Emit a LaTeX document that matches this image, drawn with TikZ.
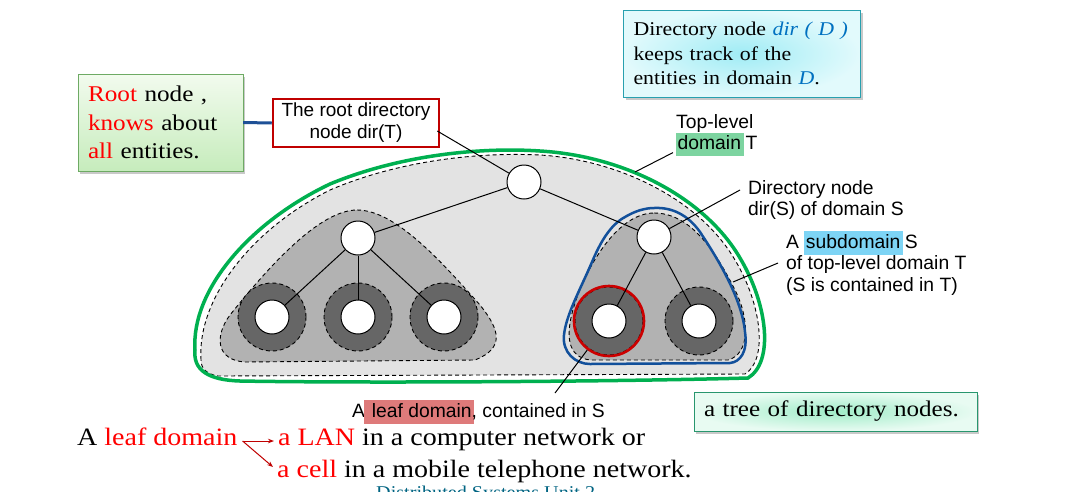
\documentclass[tikz,border=0pt]{standalone}
\usepackage{fontspec}
\setmainfont{Liberation Serif}[FakeStretch=1.12]
\newfontfamily\diagfont{Liberation Sans}
\usetikzlibrary{shadows,calc,arrows.meta}
\definecolor{outergray}{RGB}{227,227,227}
\definecolor{midgray}{RGB}{178,178,178}
\definecolor{ringgray}{RGB}{102,102,102}
\definecolor{tgreen}{RGB}{0,176,80}
\definecolor{sblue}{RGB}{18,80,155}
\definecolor{ringred}{RGB}{204,0,0}
\definecolor{boxred}{RGB}{192,0,0}
\definecolor{hlg}{RGB}{125,212,160}
\definecolor{hlb}{RGB}{125,212,245}
\definecolor{hlr}{RGB}{222,122,122}
\definecolor{conblue}{RGB}{30,80,150}
\definecolor{ablue}{RGB}{0,112,192}
\definecolor{darkred}{RGB}{192,0,0}
\definecolor{footteal}{RGB}{0,100,130}
\definecolor{rootborder}{RGB}{110,170,100}
\definecolor{calloutcyan}{RGB}{40,160,175}
\definecolor{treeborder}{RGB}{40,150,110}
\newcommand\hlbox[2]{{\setlength{\fboxsep}{0pt}\colorbox{#1}{\rule[-6.5pt]{0pt}{23.5pt}\kern1.5pt#2\kern2.5pt}}}
\begin{document}
\begin{tikzpicture}[x=1pt,y=-1pt,
  dlab/.style={font=\diagfont\fontsize{19.3}{21.7}\selectfont, align=left, inner sep=0pt, anchor=north west},
  wcirc/.style={circle, draw, fill=white, minimum size=34pt, inner sep=0pt, line width=1pt},
  ring/.style={circle, draw, dash pattern=on 4pt off 3pt, fill=ringgray, minimum size=68pt, inner sep=0pt, line width=0.9pt},
  conn/.style={line width=1pt},
  shadowed/.style={drop shadow={shadow xshift=2pt, shadow yshift=-3pt, opacity=0.35, fill=black!60}},
  serifbig/.style={font=\fontsize{25}{32}\selectfont, inner sep=0pt, anchor=base west}
]
\useasboundingbox (0,0) rectangle (1067,491);
\fill[white] (0,0) rectangle (1067,491);

% outer domain T
\draw[fill=outergray, dash pattern=on 4pt off 3pt, line width=0.9pt]
  (201,360) .. controls (197,300) and (250,230) .. (330,190)
  .. controls (400,160) and (480,152) .. (540,155)
  .. controls (620,160) and (700,200) .. (735,260)
  .. controls (762,305) and (768,360) .. (745,374)
  -- (218,376) .. controls (207,374) and (201,369) .. (201,360) -- cycle;
\draw[tgreen, line width=3.5pt]
  (195,350) .. controls (191,290) and (250,222) .. (330,184)
  .. controls (400,155) and (480,147) .. (540,151)
  .. controls (625,156) and (705,198) .. (740,258)
  .. controls (768,305) and (774,362) .. (748,378)
  .. controls (600,382) and (350,383) .. (240,381)
  .. controls (208,380) and (193,370) .. (195,350) -- cycle;

% left subdomain
\draw[fill=midgray, dash pattern=on 4pt off 3pt, line width=0.9pt]
  (357,210) .. controls (395,210) and (440,260) .. (480,305)
  .. controls (500,330) and (505,348) .. (475,360)
  -- (245,362) .. controls (215,360) and (215,335) .. (230,315)
  .. controls (270,265) and (320,210) .. (357,210) -- cycle;

% subdomain S
\draw[fill=midgray, dash pattern=on 4pt off 3pt, line width=0.9pt]
  (654,213) .. controls (690,213) and (715,250) .. (735,290)
  .. controls (750,320) and (750,354) .. (728,360)
  -- (590,360) .. controls (567,357) and (564,335) .. (576,300)
  .. controls (590,260) and (620,213) .. (654,213) -- cycle;
\draw[sblue, line width=2.5pt]
  (654,208) .. controls (672,207) and (688,215) .. (700,232)
  .. controls (720,262) and (742,300) .. (745,332)
  .. controls (748,352) and (740,362) .. (730,363)
  -- (590,364) .. controls (575,364) and (562,352) .. (564,335)
  .. controls (566,315) and (580,290) .. (592,262)
  .. controls (600,243) and (610,225) .. (625,217)
  .. controls (635,211) and (645,208) .. (654,208) -- cycle;

% leaf domains
\node[ring] (l1) at (272,317) {};
\node[ring] (l2) at (358,317) {};
\node[ring] (l3) at (444,317) {};
\node[ring] (r1) at (609,321) {};
\node[ring] (r2) at (699,321) {};
\node[wcirc] (c1) at (272,317) {};
\node[wcirc] (c2) at (358,317) {};
\node[wcirc] (c3) at (444,317) {};
\node[wcirc] (s1) at (609,321) {};
\node[wcirc] (s2) at (699,321) {};
\node[circle, draw=ringred, line width=2.6pt, minimum size=70pt, inner sep=0pt] (rr) at (609,321) {};

% directory nodes
\node[wcirc] (root) at (524,182) {};
\node[wcirc] (dl) at (358,238) {};
\node[wcirc] (ds) at (654,237) {};

\draw[conn] (root) -- (dl);
\draw[conn] (root) -- (ds);
\draw[conn] (dl) -- (c1);
\draw[conn] (dl) -- (c2);
\draw[conn] (dl) -- (c3);
\draw[conn] (ds) -- (s1);
\draw[conn] (ds) -- (s2);

% labels
\node[draw=boxred, line width=2.5pt, minimum width=166pt, minimum height=48pt, inner sep=0pt, align=center,
  font=\diagfont\fontsize{19}{22}\selectfont] (rootbox) at (356,123) {The root directory\\node dir(T)};
\draw[conn] ($(rootbox.east)+(-3,8)$) -- (root);

\node[dlab] (toplab) at (676,114) {Top-level\\\hlbox{hlg}{domain}\kern2pt T};
\coordinate (tlT) at (635,172);
\draw[conn] ($(toplab.south west)+(-3,-4)$) -- (tlT);

\node[dlab] (dslab) at (748,180) {Directory node\\dir(S) of domain S};
\draw[conn] ($(dslab.north west)+(-8,10)$) -- (ds);

\node[dlab] (sublab) at (786,231) {A \hlbox{hlb}{subdomain}\kern2pt S\\of top-level domain T\\(S is contained in T)};
\coordinate (subT) at (733,282);
\draw[conn] ($(sublab.north west)+(-8,32)$) -- (subT);

\node[font=\diagfont\fontsize{19.3}{21.7}\selectfont, inner sep=0pt, anchor=base west] (leaflab) at (352,417)
  {A\kern-1pt\hlbox{hlr}{\kern1pt\ leaf domain}\kern-2.5pt, contained in S};
\coordinate (leafend) at (555,393);
\draw[conn] (rr) -- (leafend);

% callouts
\node[draw=rootborder, shadowed, top color={rgb,255:red,242;green,251;blue,238}, bottom color={rgb,255:red,198;green,236;blue,188},
  minimum width=165pt, minimum height=97pt, text width=145pt, inner xsep=10pt, inner ysep=0pt, align=left,
  font=\fontsize{22.5}{28.3}\selectfont] (rootcall) at (160.5,122.5)
  {\textcolor{red}{Root} node ,\\\textcolor{red}{knows} about\\\textcolor{red}{all} entities.};
\draw[conblue, line width=3pt] (rootcall.east) -- (rootbox.west);

\node[draw=calloutcyan, shadowed, inner color={rgb,255:red,160;green,236;blue,245}, outer color={rgb,255:red,226;green,250;blue,252},
  minimum width=236pt, minimum height=87pt, text width=217pt, inner xsep=10pt, inner ysep=0pt, align=left,
  font=\fontsize{19.5}{24.5}\selectfont] (dircall) at (742,53.5)
  {Directory node \textcolor{ablue}{\textit{dir ( D )}}\\keeps track of the\\entities in domain \textcolor{ablue}{\textit{D}}.};

\node[draw=treeborder, shadowed, inner color={rgb,255:red,160;green,236;blue,200}, outer color={rgb,255:red,232;green,251;blue,242},
  minimum width=283pt, minimum height=39pt, text width=263pt, inner xsep=10pt, inner ysep=0pt, align=left,
  font=\fontsize{22.4}{26}\selectfont] (treecall) at (835.5,411.5)
  {a tree of directory nodes.};

% bottom text
\node[serifbig] (ld) at (77,445) {A \textcolor{red}{leaf domain}};
\node[serifbig] (lan) at (278,445) {\textcolor{red}{a LAN} in a computer network or};
\node[serifbig] (cell) at (277,477) {\textcolor{red}{a cell} in a mobile telephone network.};
\draw[darkred, line width=1pt, -{Stealth[length=6pt,width=4.5pt]}] ($(ld.base east)+(5,-4)$) -- ($(lan.base west)+(-4,-4)$);
\draw[darkred, line width=1pt, -{Stealth[length=6pt,width=4.5pt]}] ($(ld.base east)+(5,-4)$) -- ($(cell.base west)+(-4,-10)$);

\node[font=\fontsize{18}{20}\selectfont, text=footteal, inner sep=0pt, anchor=base west] (foot) at (376,498) {Distributed Systems Unit 2};
\end{tikzpicture}
\end{document}
